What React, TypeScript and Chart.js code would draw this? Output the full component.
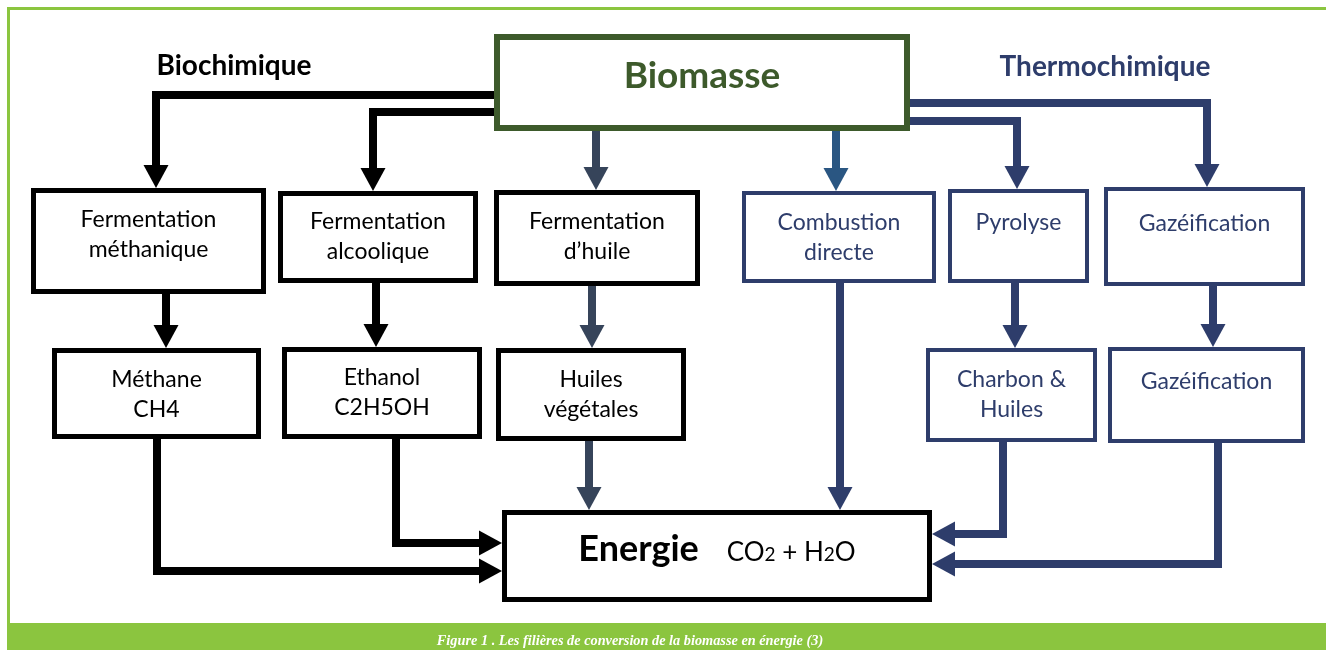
import React, { useEffect, useRef } from 'react';
import { Chart, registerables } from 'chart.js';

Chart.register(...registerables);

const W = 1326;
const H = 650;

// ---------- data: node texts ----------
const boxLabels: string[][] = [
  ['Biomasse'],
  ['Fermentation', 'méthanique'],
  ['Fermentation', 'alcoolique'],
  ['Fermentation', 'd\u2019huile'],
  ['Combustion', 'directe'],
  ['Pyrolyse'],
  ['Gazéification'],
  ['Méthane', 'CH4'],
  ['Ethanol', 'C2H5OH'],
  ['Huiles', 'végétales'],
  ['Charbon &', 'Huiles'],
  ['Gazéification'],
];
const boxFamilies = ['root', 'bio', 'bio', 'bio', 'thermo', 'thermo', 'thermo', 'bio', 'bio', 'bio', 'thermo', 'thermo'];
const groupLabels = ['Biochimique', 'Thermochimique'];
const energyLabel = 'Energie';
const energyProducts = ['CO', '2', ' + H', '2', 'O'];
const caption = 'Figure 1 . Les filières de conversion de la biomasse en énergie (3)';

// ---------- layout (chart units = px) ----------
const boxRects = [
  [494, 34, 910, 131],
  [31, 188, 266, 294],
  [278, 191, 478, 283],
  [494, 190, 700, 286],
  [742, 191, 936, 283],
  [948, 189, 1089, 283],
  [1104, 187, 1305, 286],
  [52, 348, 261, 439],
  [282, 347, 482, 439],
  [496, 348, 686, 441],
  [926, 348, 1097, 442],
  [1108, 347, 1305, 443],
];
const boxBaselines = [88, 227, 229, 229, 230, 230, 231, 387, 385, 387, 387, 389];
const energyRect = [502, 510, 932, 602];
const groupPos = [[234, 75], [1105, 76]];

const connectorPaths: number[][][] = [
  [[494, 95], [156, 95], [156, 188]],
  [[494, 112], [373, 112], [373, 191]],
  [[596, 131], [596, 190]],
  [[836, 131], [836, 191]],
  [[903, 103], [1207, 103], [1207, 187]],
  [[910, 121], [1017, 121], [1017, 189]],
  [[166, 294], [166, 348]],
  [[376, 283], [376, 347]],
  [[592, 286], [592, 348]],
  [[1015, 283], [1015, 348]],
  [[1213, 286], [1213, 347]],
  [[157, 439], [157, 571], [502, 571]],
  [[396, 439], [396, 543], [502, 543]],
  [[589, 441], [589, 510]],
  [[840, 283], [840, 510]],
  [[1003, 442], [1003, 534], [932, 534]],
  [[1218, 443], [1218, 564], [932, 564]],
];
const connectorFamilies = ['bio', 'bio', 'slate', 'steel', 'thermo', 'thermo', 'bio', 'bio', 'slate', 'thermo', 'thermo', 'bio', 'bio', 'slate', 'thermo', 'thermo', 'thermo'];

// ---------- styles ----------
const COLORS: Record<string, string> = {
  root: '#3d5a2b',
  bio: '#000000',
  thermo: '#2e3d6b',
  slate: '#36445a',
  steel: '#2a5682',
  green: '#8bc53f',
};
const BORDER: Record<string, number> = { root: 6, bio: 5, thermo: 4 };
const FONT = 'Lato, "Noto Sans", sans-serif';
const LINE_W = 8;
const HEAD_LEN = 23;
const HEAD_W = 25;

export default function App() {
  const ref = useRef<HTMLCanvasElement | null>(null);

  useEffect(() => {
    document.body.style.margin = '0';
    let chart: Chart | null = null;
    let cancelled = false;

    const build = () => {
      if (cancelled || !ref.current) return;
      const shortened = connectorPaths.map((pts) => {
        const out = pts.map((p) => ({ x: p[0], y: p[1] }));
        const a = out[out.length - 2];
        const b = out[out.length - 1];
        const dx = b.x - a.x;
        const dy = b.y - a.y;
        const len = Math.hypot(dx, dy);
        out[out.length - 1] = { x: b.x - (dx / len) * (HEAD_LEN - 2), y: b.y - (dy / len) * (HEAD_LEN - 2) };
        return out;
      });

      const flowPlugin = {
        id: 'flow',
        beforeDraw(c: any) {
          const ctx = c.ctx;
          ctx.save();
          ctx.fillStyle = '#ffffff';
          ctx.fillRect(0, 0, W, H);
          const X = (v: number) => c.scales.x.getPixelForValue(v);
          const Y = (v: number) => c.scales.y.getPixelForValue(v);
          ctx.fillStyle = COLORS.green;
          ctx.fillRect(X(7), Y(7), X(W) - X(7), 3);
          ctx.fillRect(X(7), Y(7), 3, Y(623) - Y(7));
          ctx.fillRect(X(7), Y(623), X(W) - X(7), Y(H) - Y(623));
          ctx.restore();
        },
        afterDatasetsDraw(c: any) {
          const ctx = c.ctx;
          const X = (v: number) => c.scales.x.getPixelForValue(v);
          const Y = (v: number) => c.scales.y.getPixelForValue(v);
          ctx.save();

          // arrow heads
          connectorPaths.forEach((pts, i) => {
            const a = pts[pts.length - 2];
            const b = pts[pts.length - 1];
            const tx = X(b[0]);
            const ty = Y(b[1]);
            const dx = X(b[0]) - X(a[0]);
            const dy = Y(b[1]) - Y(a[1]);
            const len = Math.hypot(dx, dy);
            const ux = dx / len;
            const uy = dy / len;
            const bx = tx - ux * HEAD_LEN;
            const by = ty - uy * HEAD_LEN;
            ctx.fillStyle = COLORS[connectorFamilies[i]];
            ctx.beginPath();
            ctx.moveTo(tx, ty);
            ctx.lineTo(bx - uy * HEAD_W / 2, by + ux * HEAD_W / 2);
            ctx.lineTo(bx + uy * HEAD_W / 2, by - ux * HEAD_W / 2);
            ctx.closePath();
            ctx.fill();
          });

          const drawBox = (r: number[], color: string, bw: number) => {
            const x0 = X(r[0]), y0 = Y(r[1]), x1 = X(r[2]), y1 = Y(r[3]);
            ctx.fillStyle = '#ffffff';
            ctx.fillRect(x0, y0, x1 - x0, y1 - y0);
            ctx.strokeStyle = color;
            ctx.lineWidth = bw;
            ctx.strokeRect(x0 + bw / 2, y0 + bw / 2, x1 - x0 - bw, y1 - y0 - bw);
          };

          ctx.textAlign = 'center';
          ctx.textBaseline = 'alphabetic';
          boxRects.forEach((r, i) => {
            const fam = boxFamilies[i];
            drawBox(r, COLORS[fam], BORDER[fam]);
            const cx = X((r[0] + r[2]) / 2);
            ctx.fillStyle = COLORS[fam];
            if (fam === 'root') {
              ctx.font = `bold 37px ${FONT}`;
            } else {
              ctx.font = `23px ${FONT}`;
            }
            boxLabels[i].forEach((t, k) => {
              ctx.fillText(t, cx, Y(boxBaselines[i] + k * 30));
            });
          });

          // energy box
          drawBox(energyRect, '#000000', 5);
          ctx.fillStyle = '#000000';
          const partsFonts = [`26px ${FONT}`, `19px ${FONT}`, `26px ${FONT}`, `19px ${FONT}`, `26px ${FONT}`];
          ctx.font = `bold 36px ${FONT}`;
          const eW = ctx.measureText(energyLabel).width;
          const gap = 28;
          let pw = 0;
          energyProducts.forEach((p, k) => {
            ctx.font = partsFonts[k];
            pw += ctx.measureText(p).width;
          });
          const total = eW + gap + pw;
          let x = X((energyRect[0] + energyRect[2]) / 2) - total / 2;
          const base = Y(561);
          ctx.textAlign = 'left';
          ctx.font = `bold 36px ${FONT}`;
          ctx.fillText(energyLabel, x, base);
          x += eW + gap;
          energyProducts.forEach((p, k) => {
            ctx.font = partsFonts[k];
            ctx.fillText(p, x, base);
            x += ctx.measureText(p).width;
          });

          // group labels
          ctx.textAlign = 'center';
          ctx.font = `bold 28px ${FONT}`;
          ctx.fillStyle = COLORS.bio;
          ctx.fillText(groupLabels[0], X(groupPos[0][0]), Y(groupPos[0][1]));
          ctx.fillStyle = COLORS.thermo;
          ctx.fillText(groupLabels[1], X(groupPos[1][0]), Y(groupPos[1][1]));

          // caption
          ctx.fillStyle = '#ffffff';
          ctx.font = `italic bold 14.3px "Liberation Serif", "DejaVu Serif", serif`;
          ctx.fillText(caption, X(630), Y(645));
          ctx.restore();
        },
      };

      chart = new Chart(ref.current, {
        type: 'scatter',
        data: {
          datasets: shortened.map((d, i) => ({
            data: d,
            showLine: true,
            borderColor: COLORS[connectorFamilies[i]],
            backgroundColor: COLORS[connectorFamilies[i]],
            borderWidth: LINE_W,
            borderJoinStyle: 'miter',
            borderCapStyle: 'butt',
            pointRadius: 0,
            pointHoverRadius: 0,
            tension: 0,
            fill: false,
            clip: false,
          })) as any,
        },
        options: {
          animation: false,
          responsive: false,
          maintainAspectRatio: false,
          events: [],
          layout: { padding: 0 },
          plugins: { legend: { display: false }, tooltip: { enabled: false }, title: { display: false } },
          scales: {
            x: { type: 'linear', min: 0, max: W, display: false },
            y: { type: 'linear', min: 0, max: H, reverse: true, display: false },
          },
        },
        plugins: [flowPlugin],
      });
    };

    const fontsReady = (document as any).fonts
      ? Promise.all([
          (document as any).fonts.load(`23px Lato`),
          (document as any).fonts.load(`bold 37px Lato`),
          (document as any).fonts.load(`italic bold 15px "Liberation Serif"`),
        ]).catch(() => null)
      : Promise.resolve(null);
    fontsReady.then(build);

    return () => {
      cancelled = true;
      if (chart) chart.destroy();
    };
  }, []);

  return (
    <div style={{ width: W, height: H }}>
      <canvas ref={ref} width={W} height={H} style={{ display: 'block', width: W, height: H }} />
    </div>
  );
}
